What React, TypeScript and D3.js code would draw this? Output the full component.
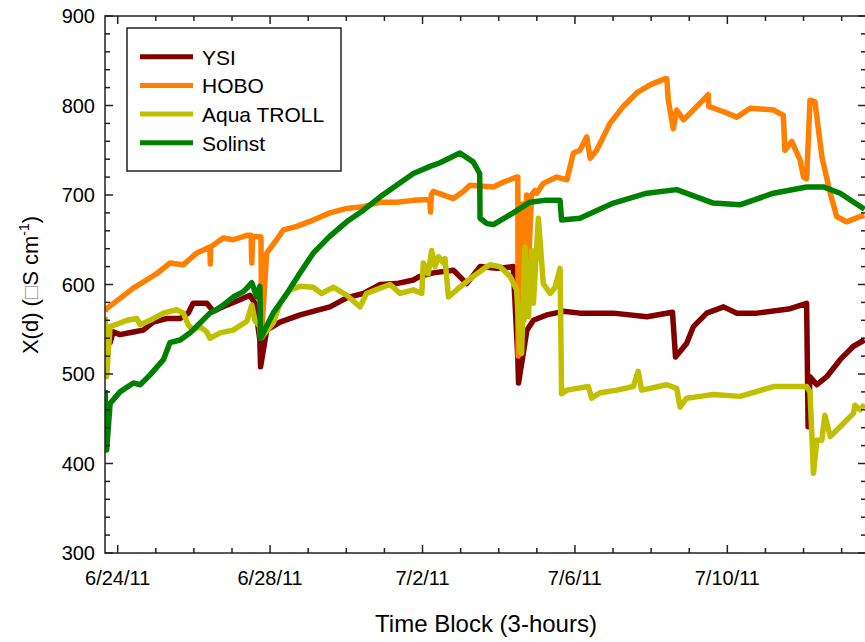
import React from 'react';
import * as d3 from 'd3';

const W = 865;
const H = 642;

// day offsets from 6/24/11 00:00, conductivity values
const ysi: [number, number][] = [
  [-0.33, 545], [-0.2, 535], [-0.12, 547], [0.06, 544], [0.41, 547], [0.67, 549], [0.93, 558],
  [1.29, 562], [1.64, 562], [1.85, 568], [1.98, 579], [2.34, 579], [2.51, 570], [2.86, 577],
  [3.21, 583], [3.47, 588], [3.6, 579], [3.73, 538], [3.75, 508], [3.91, 549], [4.26, 558],
  [4.79, 566], [5.13, 570], [5.57, 575], [6.01, 585], [6.45, 590], [6.89, 600], [7.32, 601],
  [7.76, 605], [7.93, 609], [8.28, 613], [8.81, 616], [9.16, 601], [9.51, 620], [9.95, 618],
  [10.38, 620], [10.5, 519], [10.52, 490], [10.74, 549], [10.91, 560], [11.26, 566], [11.7, 570],
  [12.13, 568], [13.01, 568], [13.89, 564], [14.56, 569], [14.64, 519], [14.93, 534], [15.11, 553],
  [15.46, 568], [15.9, 575], [16.25, 568], [16.77, 568], [17.65, 573], [18.08, 579], [18.12, 441],
  [18.17, 497], [18.35, 488], [18.61, 497], [18.96, 516], [19.31, 531], [19.6, 538],
];

const hobo: [number, number][] = [
  [-0.33, 570], [-0.29, 573], [0.41, 596], [1.02, 612], [1.37, 624], [1.72, 622], [2.07, 635],
  [2.42, 642], [2.43, 623], [2.44, 642], [2.77, 652], [3.03, 650], [3.39, 655], [3.5, 655],
  [3.52, 624], [3.54, 654], [3.76, 653], [3.78, 541], [3.8, 560], [3.91, 635], [4.17, 650],
  [4.35, 661], [4.7, 665], [5.13, 672], [5.57, 680], [6.01, 685], [6.45, 687], [6.89, 692],
  [7.32, 692], [7.76, 694], [8.19, 695], [8.21, 681], [8.23, 700], [8.28, 704], [8.81, 696],
  [9.07, 704], [9.25, 711], [9.86, 709], [10.1, 714], [10.47, 720], [10.5, 720], [10.51, 520],
  [10.56, 530], [10.62, 690], [10.66, 560], [10.73, 700], [10.78, 620], [10.86, 700], [10.95, 705],
  [11.0, 702], [11.17, 713], [11.52, 720], [11.79, 717], [11.96, 747], [12.13, 750], [12.31, 765],
  [12.4, 741], [12.57, 750], [12.92, 780], [13.27, 799], [13.62, 814], [13.97, 823], [14.37, 830],
  [14.41, 830], [14.45, 806], [14.58, 774], [14.67, 795], [14.85, 784], [15.2, 799], [15.5, 812],
  [15.51, 799], [15.9, 793], [16.25, 787], [16.6, 797], [17.21, 795], [17.47, 789], [17.51, 750],
  [17.69, 760], [17.91, 739], [18.0, 720], [18.08, 718], [18.17, 806], [18.3, 804], [18.48, 743],
  [18.7, 702], [18.87, 676], [19.13, 670], [19.48, 676], [19.6, 677],
];

const aqua: [number, number][] = [
  [-0.33, 564], [-0.29, 497], [-0.2, 553], [0.06, 557], [0.24, 560], [0.5, 562], [0.59, 555],
  [0.85, 560], [1.2, 568], [1.55, 572], [1.72, 568], [1.85, 555], [1.98, 549], [2.16, 553],
  [2.34, 547], [2.42, 540], [2.69, 546], [3.03, 549], [3.39, 559], [3.52, 577], [3.6, 560],
  [3.73, 553], [3.75, 540], [4.08, 557], [4.26, 579], [4.52, 594], [4.79, 598], [5.13, 597],
  [5.35, 590], [5.66, 597], [6.01, 588], [6.36, 575], [6.53, 590], [6.89, 596], [7.15, 600],
  [7.41, 590], [7.76, 594], [7.98, 590], [8.02, 624], [8.15, 612], [8.24, 638], [8.33, 620],
  [8.42, 631], [8.55, 624], [8.59, 629], [8.68, 586], [8.98, 597], [9.33, 609], [9.69, 620],
  [9.77, 622], [10.03, 620], [10.3, 609], [10.47, 594], [10.56, 527], [10.6, 523], [10.69, 642],
  [10.78, 564], [10.87, 638], [10.91, 579], [11.04, 674], [11.17, 601], [11.35, 590], [11.48, 597],
  [11.61, 618], [11.65, 478], [11.79, 482], [12.35, 486], [12.44, 473], [12.66, 479], [13.1, 482],
  [13.53, 486], [13.66, 503], [13.75, 482], [14.41, 488], [14.67, 484], [14.76, 463], [14.93, 473],
  [15.28, 475], [15.63, 477], [16.33, 475], [17.21, 486], [18.08, 486], [18.17, 480], [18.26, 389],
  [18.35, 426], [18.48, 426], [18.56, 454], [18.7, 430], [18.96, 441], [19.31, 456], [19.35, 465],
  [19.48, 460], [19.6, 466],
];

const solinst: [number, number][] = [
  [-0.33, 482], [-0.29, 415], [-0.2, 467], [0.06, 480], [0.41, 490], [0.59, 488], [0.85, 499],
  [1.2, 516], [1.37, 535], [1.64, 538], [1.9, 546], [2.16, 557], [2.42, 568], [2.6, 572],
  [2.77, 577], [3.03, 586], [3.3, 592], [3.39, 596], [3.52, 602], [3.65, 586], [3.73, 598],
  [3.75, 540], [4.08, 568], [4.44, 590], [4.79, 613], [5.13, 635], [5.57, 654], [6.01, 670],
  [6.45, 683], [6.89, 698], [7.32, 711], [7.76, 724], [8.2, 732], [8.46, 736], [8.98, 747],
  [9.33, 737], [9.5, 724], [9.51, 674], [9.69, 668], [9.86, 667], [10.38, 680], [10.82, 692],
  [11.2, 694], [11.61, 694], [11.65, 672], [12.13, 674], [13.01, 691], [13.89, 702], [14.67, 706],
  [15.63, 691], [16.33, 689], [17.21, 702], [18.08, 709], [18.52, 709], [18.96, 702], [19.6, 684],
];

const seriesNames = ['YSI', 'HOBO', 'Aqua TROLL', 'Solinst'];
const seriesColors = ['#800000', '#ff8000', '#c0c000', '#008000'];
const seriesData = [ysi, hobo, aqua, solinst];

const yMajorTicks = [300, 400, 500, 600, 700, 800, 900];
const xTickLabels = ['6/24/11', '6/28/11', '7/2/11', '7/6/11', '7/10/11'];

const START = new Date(2011, 5, 24);
const toDate = (d: number) => new Date(START.getTime() + d * 864e5);

const left = 105, right = 866, top = 16, bottom = 553;
const FONT = '"Liberation Sans", Arial, sans-serif';

const App: React.FC = () => {
  const x = d3.scaleTime()
    .domain([new Date(2011, 5, 23, 16), new Date(2011, 6, 13, 15, 20)])
    .range([left, right]);
  const y = d3.scaleLinear().domain([300, 900]).range([bottom, top]);

  const line = d3.line<[number, number]>()
    .x(d => x(toDate(d[0])))
    .y(d => y(d[1]));

  const dayTicks = d3.timeDay.range(new Date(2011, 5, 24), new Date(2011, 6, 14));
  const majorDays = dayTicks.filter((_, i) => i % 4 === 0);
  const yMinor = d3.range(300, 901, 20).filter(v => v % 100 !== 0);

  return (
    <svg width={W} height={H} style={{ position: 'absolute', left: 0, top: 0, background: '#fff' }}
      fontFamily={FONT}>
      <defs>
        <clipPath id="plot">
          <rect x={left} y={top} width={right - left} height={bottom - top} />
        </clipPath>
      </defs>

      {/* series */}
      <g clipPath="url(#plot)">
        {seriesData.map((s, i) => (
          <path key={i} d={line(s) || ''} fill="none" stroke={seriesColors[i]} strokeWidth={5.5}
            strokeLinejoin="round" strokeLinecap="butt" />
        ))}
      </g>

      {/* frame */}
      <rect x={left} y={top} width={right - left} height={bottom - top} fill="none" stroke="#222" strokeWidth={1.5} />

      {/* x ticks, bottom + top */}
      {dayTicks.map((d, i) => {
        const len = i % 4 === 0 ? 8 : 5;
        const px = x(d);
        return (
          <g key={i} stroke="#222" strokeWidth={1.5}>
            <line x1={px} x2={px} y1={bottom} y2={bottom - len} />
            <line x1={px} x2={px} y1={top} y2={top + len} />
          </g>
        );
      })}
      {majorDays.map((d, i) => (
        <text key={i} x={x(d)} y={585} textAnchor="middle" fontSize={20} fill="#000">{xTickLabels[i]}</text>
      ))}

      {/* y ticks, left + right */}
      {yMajorTicks.map(v => (
        <g key={v}>
          <line x1={left} x2={left + 8} y1={y(v)} y2={y(v)} stroke="#222" strokeWidth={1.5} />
          <line x1={right} x2={right - 8} y1={y(v)} y2={y(v)} stroke="#222" strokeWidth={1.5} />
          <text x={95} y={y(v)} dy="0.36em" textAnchor="end" fontSize={20} fill="#000">{v}</text>
        </g>
      ))}
      {yMinor.map(v => (
        <g key={v} stroke="#222" strokeWidth={1.5}>
          <line x1={left} x2={left + 5} y1={y(v)} y2={y(v)} />
          <line x1={right} x2={right - 5} y1={y(v)} y2={y(v)} />
        </g>
      ))}

      {/* axis titles */}
      <text x={486} y={632} textAnchor="middle" fontSize={24} fill="#000">Time Block (3-hours)</text>
      <text transform="translate(38,285) rotate(-90)" textAnchor="middle" fontSize={22} fill="#000">
        X(d) (<tspan fill="#999">{'\u25A1'}</tspan>S cm<tspan dy={-9} fontSize={14}>-1</tspan><tspan dy={9}>)</tspan>
      </text>

      {/* legend */}
      <rect x={127} y={28} width={214} height={143} fill="#fff" stroke="#222" strokeWidth={1.5} />
      {seriesNames.map((n, i) => {
        const ly = 56.7 + i * 28.7;
        return (
          <g key={n}>
            <line x1={140} x2={193} y1={ly} y2={ly} stroke={seriesColors[i]} strokeWidth={5} />
            <text x={202} y={ly + 8} fontSize={21} fill="#000">{n}</text>
          </g>
        );
      })}
    </svg>
  );
};

export default App;
